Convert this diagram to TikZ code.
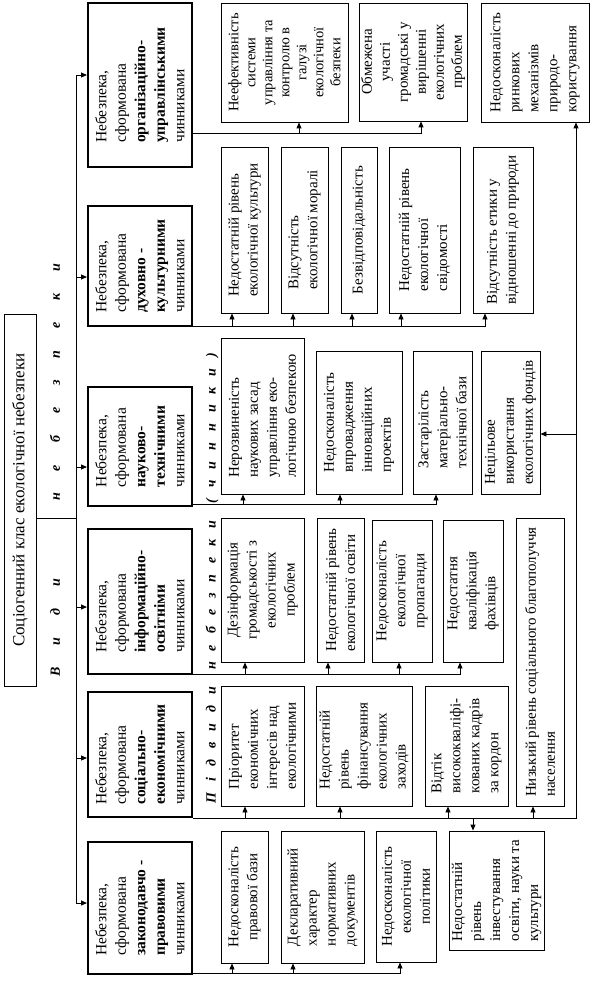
\documentclass[tikz,border=0pt]{standalone}
\usepackage{fontspec}
\setmainfont{Liberation Serif}
\usetikzlibrary{arrows.meta}
\newcommand{\subfnt}{\fontsize{15}{19}\selectfont}
\newcommand{\typefnt}{\fontsize{15.5}{19.5}\selectfont}
\newcommand{\placebox}[7]{\node[#2, minimum width={#6pt-#4pt}, minimum height={#5pt-#3pt}] (#1) at ({(#3+#5)/2},{(#4+#6)/2}) {#7};}
\newcommand{\gapA}{\hspace{22pt}}
\newcommand{\gapB}{\hspace{11pt}}
\newcommand{\gapW}{\hspace{17pt}}
\tikzset{
  sb/.style={draw, line width=0.9pt, rotate=90, inner sep=2pt, font=\subfnt, align=left},
  sbc/.style={sb, align=center},
  tb/.style={draw, line width=2pt, rotate=90, inner sep=2pt, font=\typefnt, align=left},
  conn/.style={line width=0.9pt},
  arr/.style={line width=0.9pt, -{Triangle[length=6pt,width=5pt]}},
  spaced/.style={rotate=90, inner sep=0pt, font=\fontsize{14}{14}\selectfont\bfseries\itshape}
}
\begin{document}
\begin{tikzpicture}[x=1pt,y=-1pt]
\useasboundingbox (0,0) rectangle (601,984);

% title
\node[draw, line width=0.9pt, rotate=90, minimum width=372pt, minimum height=32pt, inner sep=0pt,
  font=\fontsize{17}{20}\selectfont] (title) at (20,500) {Соціогенний клас екологічної небезпеки};

% spaced captions
\node[spaced] (vydy) at (55,628) {В\gapA и\gapA д\gapA и};
\node[spaced] (vneb) at (55,382) {н\gapA е\gapA б\gapA е\gapA з\gapA п\gapA е\gapA к\gapA и};
\node[spaced] (pidv) at (212,578) {П\gapB і\gapB д\gapB в\gapB и\gapB д\gapB и\gapW н\gapB е\gapB б\gapB е\gapB з\gapB п\gapB е\gapB к\gapB и\gapW (\gapB ч\gapB и\gapB н\gapB н\gapB и\gapB к\gapB и\gapB )};

% type boxes
\placebox{tOrg}{tb}{88}{3}{192}{167}{Небезпека,\\сформована\\\textbf{організаційно-}\\\textbf{управлінськими}\\чинниками}
\placebox{tDuch}{tb}{88}{206}{192}{326}{Небезпека,\\сформована\\\textbf{духовно -}\\\textbf{культурними}\\чинниками}
\placebox{tNauk}{tb}{88}{387}{192}{506}{Небезпека,\\сформована\\\textbf{науково-}\\\textbf{технічними}\\чинниками}
\placebox{tInf}{tb}{88}{529}{192}{674}{Небезпека,\\сформована\\\textbf{інформаційно-}\\\textbf{освітніми}\\чинниками}
\placebox{tSoc}{tb}{88}{692}{192}{817}{Небезпека,\\сформована\\\textbf{соціально-}\\\textbf{економічними}\\чинниками}
\placebox{tZak}{tb}{88}{842}{192}{974}{Небезпека,\\сформована\\\textbf{законодавчо -}\\\textbf{правовими}\\чинниками}

% org sub-boxes
\placebox{o1}{sbc, font=\fontsize{14.5}{17}\selectfont}{221}{3}{348}{122}{Неефективність\\системи\\управління та\\контролю в\\галузі\\екологічної\\безпеки}
\placebox{o2}{sbc, font=\fontsize{15}{18}\selectfont}{359}{3}{467}{121}{Обмежена\\участі\\громадські у\\вирішенні\\екологічних\\проблем}
\placebox{o3}{sb}{481}{3}{589}{122}{Недосконалість\\ринкових\\механізмів\\природо-\\користування}

% duch sub-boxes
\placebox{d1}{sb}{221}{147}{268}{313}{Недостатній рівень\\екологічної культури}
\placebox{d2}{sb}{281}{147}{328}{313}{Відсутність\\екологічної моралі}
\placebox{d3}{sb}{341}{147}{377}{313}{Безвідповідальність}
\placebox{d4}{sb}{389}{147}{460}{313}{Недостатній рівень\\екологічної\\свідомості}
\placebox{d5}{sb}{473}{147}{533}{313}{Відсутність етики у\\відношенні до природи}

% nauk sub-boxes
\placebox{n1}{sb}{221}{338}{304}{494}{Нерозвиненість\\наукових засад\\управління еко-\\логічною безпекою}
\placebox{n2}{sb}{316}{351}{402}{494}{Недосконалість\\впровадження\\інноваційних\\проектів}
\placebox{n3}{sb}{413}{351}{472}{494}{Застарілість\\матеріально-\\технічної бази}
\placebox{n4}{sb}{481}{351}{540}{494}{Нецільове\\використання\\екологічних фондів}

% inform sub-boxes
\placebox{i1}{sbc}{221}{518}{304}{662}{Дезінформація\\громадськості з\\екологічних\\проблем}
\placebox{i2}{sb}{317}{518}{364}{662}{Недостатній рівень\\екологічної освіти}
\placebox{i3}{sbc}{372}{520}{432}{662}{Недосконалість\\екологічної\\пропаганди}
\placebox{i4}{sb}{443}{520}{503}{662}{Недостатня\\кваліфікація\\фахівців}

% soc sub-boxes
\placebox{s1}{sb}{221}{686}{304}{806}{Пріоритет\\економічних\\інтересів над\\екологічними}
\placebox{s2}{sb}{316}{686}{412}{806}{Недостатній\\рівень\\фінансування\\екологічних\\заходів}
\placebox{s3}{sb}{425}{686}{508}{806}{Відтік\\висококваліфі-\\кованих кадрів\\за кордон}
\placebox{s4}{sb}{516}{518}{564}{806}{Низький рівень соціального благополуччя\\населення}

% zak sub-boxes
\placebox{z1}{sbc}{221}{831}{268}{963}{Недосконалість\\правової бази}
\placebox{z2}{sb}{281}{831}{364}{963}{Декларативний\\характер\\нормативних\\документів}
\placebox{z3}{sbc}{376}{831}{436}{962}{Недосконалість\\екологічної\\політики}
\placebox{z4}{sb}{449}{831}{544}{950}{Недостатній\\рівень\\інвестування\\освіти, науки та\\культури}

% trunk
\coordinate (trTop) at (76,75);
\coordinate (trBot) at (76,903);
\draw[conn] (title.south |- 0,518) -- (76,518);
\draw[conn] (trTop) -- (trBot);
\draw[arr] (trTop) -- (trTop -| tOrg.north);
\draw[arr] (76,277) -- (76,277 -| tDuch.north);
\draw[arr] (76,467) -- (76,467 -| tNauk.north);
\draw[arr] (76,607) -- (76,607 -| tInf.north);
\draw[arr] (76,758) -- (76,758 -| tSoc.north);
\draw[arr] (trBot) -- (trBot -| tZak.north);

% org bus
\draw[arr] (tOrg.south |- 0,133) -- (421,133) -- (421,133 |- o2.west);
\draw[arr] (299,133) -- (299,133 |- o1.west);

% duch bus
\draw[arr] (tDuch.south |- 0,326) -- (485,326) -- (485,326 |- d5.west);
\draw[arr] (232,326) -- (232,326 |- d1.west);
\draw[arr] (293,326) -- (293,326 |- d2.west);
\draw[arr] (352,326) -- (352,326 |- d3.west);
\draw[arr] (401,326) -- (401,326 |- d4.west);

% nauk bus
\draw[arr] (tNauk.south |- 0,504) -- (436,504) -- (436,504 |- n3.west);
\draw[arr] (243,504) -- (243,504 |- n1.west);
\draw[arr] (340,504) -- (340,504 |- n2.west);

% inform bus
\draw[arr] (tInf.south |- 0,674) -- (460,674) -- (460,674 |- i4.west);
\draw[arr] (245,674) -- (245,674 |- i1.west);
\draw[arr] (328,674) -- (328,674 |- i2.west);
\draw[arr] (399,674) -- (399,674 |- i3.west);

% soc bus
\draw[arr] (tSoc.south |- 0,818) -- (576,818) -- (576,818 |- o3.west);
\draw[arr] (245,818) -- (245,818 |- s1.west);
\draw[arr] (340,818) -- (340,818 |- s2.west);
\draw[arr] (448,818) -- (448,818 |- s3.west);
\draw[arr] (533,818) -- (533,818 |- s4.west);
\draw[arr] (473,818) -- (473,818 |- z4.east);
\draw[arr] (576,434) -- (576,434 -| n4.south);

% zak bus
\draw[arr] (tZak.south |- 0,973) -- (400,973) -- (400,973 |- z3.west);
\draw[arr] (232,973) -- (232,973 |- z1.west);
\draw[arr] (293,973) -- (293,973 |- z2.west);
\end{tikzpicture}
\end{document}
